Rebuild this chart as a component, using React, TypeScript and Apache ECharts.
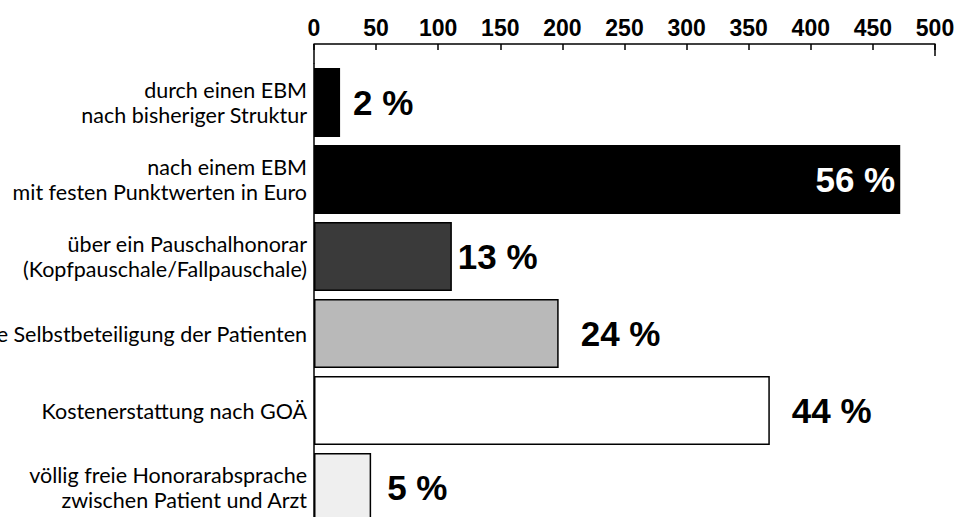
import React, { useEffect, useRef } from "react";
import * as echarts from "echarts";

const categories = [
  "durch einen EBM\nnach bisheriger Struktur",
  "nach einem EBM\nmit festen Punktwerten in Euro",
  "über ein Pauschalhonorar\n(Kopfpauschale/Fallpauschale)",
  "höhere Selbstbeteiligung der Patienten",
  "Kostenerstattung nach GOÄ",
  "völlig freie Honorarabsprache\nzwischen Patient und Arzt",
];
const values = [21, 472, 111, 197, 367, 46];
const percents = [2, 56, 13, 24, 44, 5];
const axisMin = 0;
const axisMax = 500;
const axisInterval = 50;

// appearance of each bar (style only)
const barStyles = [
  { color: "#000000", labelPos: "right", labelColor: "#000", dist: 13 },
  { color: "#000000", labelPos: "insideRight", labelColor: "#fff", dist: 5 },
  { color: "#3a3a3a", labelPos: "right", labelColor: "#000", dist: 6 },
  { color: "#b9b9b9", labelPos: "right", labelColor: "#000", dist: 22 },
  { color: "#ffffff", labelPos: "right", labelColor: "#000", dist: 22 },
  { color: "#efefef", labelPos: "right", labelColor: "#000", dist: 16 },
];

const BOLD = "'Liberation Sans', Arial, sans-serif";
const GRID_TOP = 64;
const AXIS_OFFSET = 20;

export default function App() {
  const ref = useRef<HTMLDivElement>(null);
  useEffect(() => {
    if (!ref.current) return;
    const chart = echarts.init(ref.current, undefined, { renderer: "svg" });
    chart.setOption({
      animation: false,
      backgroundColor: "#ffffff",
      grid: {
        left: 314,
        right: 22,
        top: GRID_TOP,
        height: 462,
        containLabel: false,
        outerBoundsMode: "none",
      },
      xAxis: {
        type: "value",
        position: "top",
        offset: AXIS_OFFSET,
        min: axisMin,
        max: axisMax,
        interval: axisInterval,
        splitLine: { show: false },
        axisLine: { show: true, lineStyle: { color: "#000", width: 1.5 } },
        axisTick: { show: true, inside: true, length: 6, lineStyle: { color: "#000", width: 1.5 } },
        axisLabel: {
          color: "#000",
          fontFamily: BOLD,
          fontWeight: "bold",
          fontSize: 23,
          margin: 5,
          hideOverlap: false,
        },
      },
      yAxis: {
        type: "category",
        inverse: true,
        data: categories,
        axisLine: { show: true, lineStyle: { color: "#000", width: 1.5 } },
        axisTick: { show: false },
        axisLabel: {
          color: "#000",
          fontFamily: "Lato, sans-serif",
          fontSize: 21.5,
          lineHeight: 25,
          margin: 7,
          align: "right",
        },
      },
      series: [
        {
          type: "bar",
          barWidth: 69,
          data: values.map((v, i) => ({
            value: v,
            itemStyle: {
              color: barStyles[i].color,
              borderColor: "#000",
              borderWidth: 1.5,
            },
            label: {
              show: true,
              position: barStyles[i].labelPos,
              distance: barStyles[i].dist,
              color: barStyles[i].labelColor,
              formatter: () => percents[i] + " %",
              fontFamily: BOLD,
              fontWeight: "bold",
              fontSize: 35,
            },
          })),
        },
      ],
    });
    const x0 = chart.convertToPixel({ xAxisIndex: 0 }, axisMin) as number;
    const xEnd = chart.convertToPixel({ xAxisIndex: 0 }, axisMax) as number;
    const axisY = GRID_TOP - AXIS_OFFSET;
    chart.setOption({
      graphic: [
        {
          type: "line",
          shape: { x1: x0, y1: axisY, x2: x0, y2: GRID_TOP },
          style: { stroke: "#000", lineWidth: 1.5 },
        },
        {
          type: "line",
          shape: { x1: xEnd, y1: axisY, x2: xEnd, y2: axisY + 12 },
          style: { stroke: "#000", lineWidth: 1.5 },
        },
      ],
    });
    return () => chart.dispose();
  }, []);
  return (
    <div
      ref={ref}
      style={{ position: "fixed", left: 0, top: 0, width: 957, height: 517 }}
    />
  );
}
